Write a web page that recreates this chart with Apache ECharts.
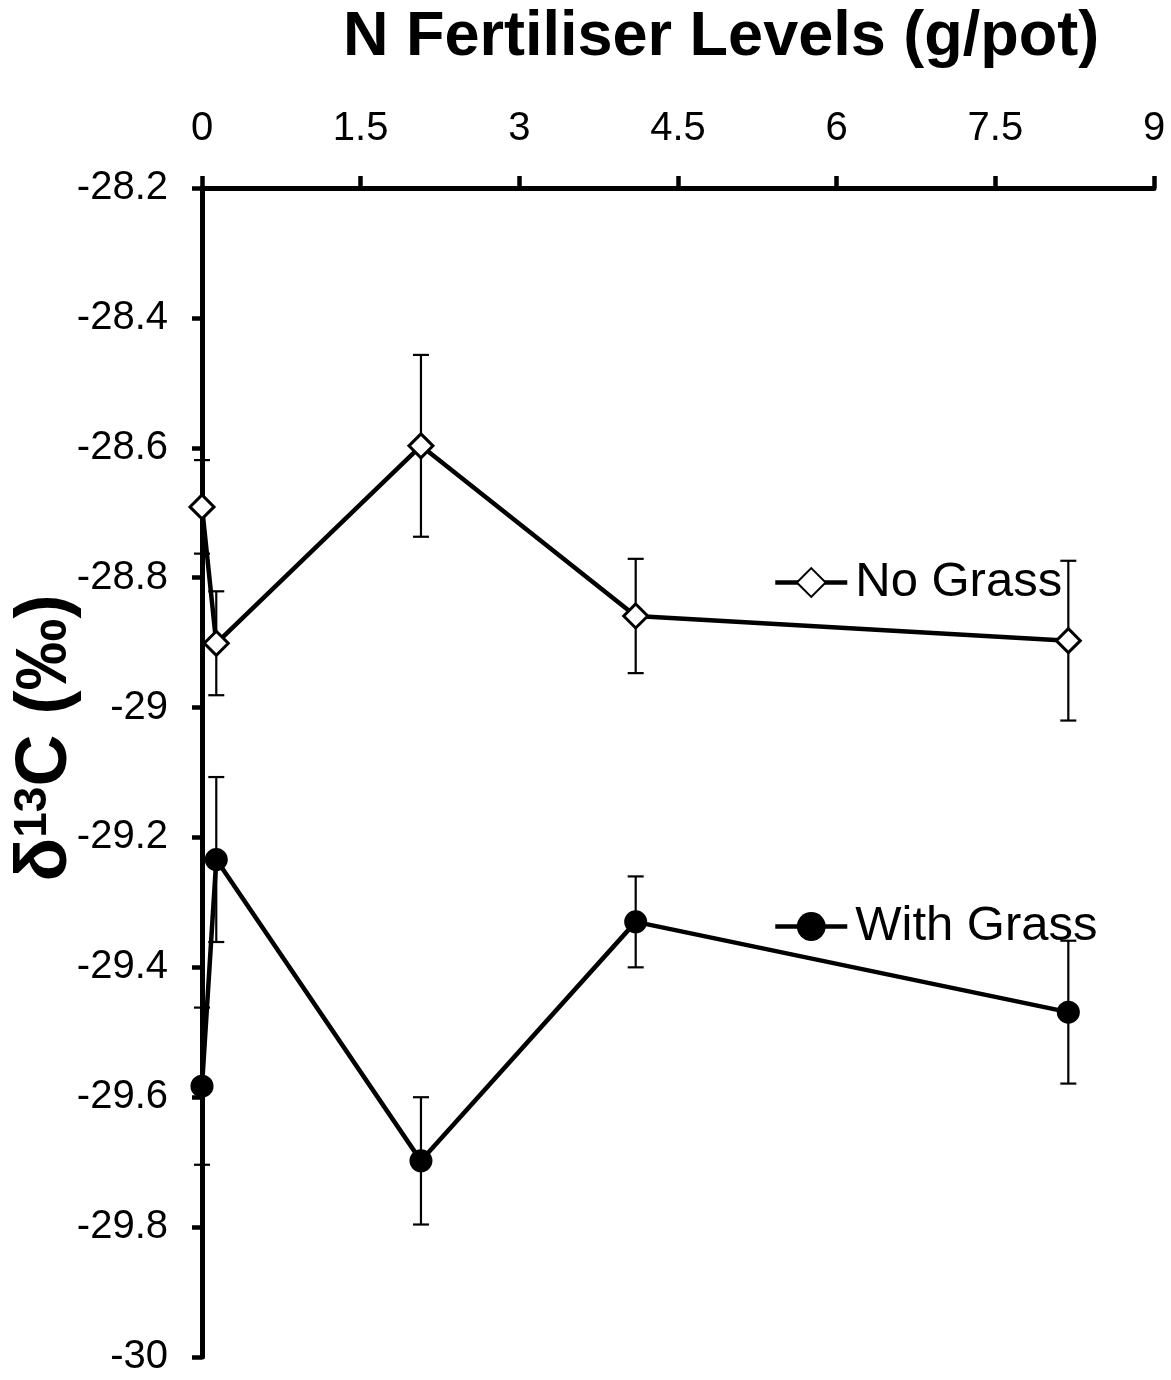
<!DOCTYPE html>
<html>
<head>
<meta charset="utf-8">
<script src="https://cdn.jsdelivr.net/npm/echarts@6/dist/echarts.min.js"></script>
<style>
  html, body { margin: 0; padding: 0; background: #fff; }
  #chart { width: 1171px; height: 1380px; }
</style>
</head>
<body>
<div id="chart"></div>
<script>
// N fertiliser levels (g/pot)
const nLevels = [0, 0.135, 2.07, 4.1, 8.19];

// δ13C means and error-bar half-widths
const noGrass = [-28.691, -28.901, -28.597, -28.859, -28.897];
const noGrassErr = [0.072, 0.080, 0.140, 0.088, 0.123];
const withGrass = [-29.583, -29.234, -29.698, -29.330, -29.469];
const withGrassErr = [0.121, 0.127, 0.098, 0.070, 0.110];

const FONT = '"Liberation Sans", Arial, sans-serif';

function pairs(ys) { return nLevels.map((x, i) => [x, ys[i]]); }
function triples(ys, es) { return nLevels.map((x, i) => [x, ys[i], es[i]]); }

// vertical error bar with end caps
function errorBar(params, api) {
  const x = api.value(0), y = api.value(1), e = api.value(2);
  const hi = api.coord([x, y + e]);
  const lo = api.coord([x, y - e]);
  const hw = 8;
  const st = { stroke: '#000', lineWidth: 2.2 };
  return {
    type: 'group',
    children: [
      { type: 'line', shape: { x1: hi[0], y1: hi[1], x2: lo[0], y2: lo[1] }, style: st },
      { type: 'line', shape: { x1: hi[0] - hw, y1: hi[1], x2: hi[0] + hw, y2: hi[1] }, style: st },
      { type: 'line', shape: { x1: lo[0] - hw, y1: lo[1], x2: lo[0] + hw, y2: lo[1] }, style: st }
    ]
  };
}

const chart = echarts.init(document.getElementById('chart'), null, { renderer: 'canvas' });

chart.setOption({
  animation: false,
  backgroundColor: '#fff',
  title: {
    text: 'N Fertiliser Levels (g/pot)',
    left: 343,
    top: 6,
    padding: 0,
    textStyle: { fontFamily: FONT, fontSize: 63, fontWeight: 'bold', color: '#000' }
  },
  graphic: [{
    type: 'text',
    x: 46,
    y: 738,
    rotation: Math.PI / 2,
    style: {
      text: '{a|δ}{s|13}{a|C (‰)}',
      align: 'center',
      verticalAlign: 'middle',
      fill: '#000',
      rich: {
        a: { fontFamily: FONT, fontSize: 72, fontWeight: 'bold', lineHeight: 72, fill: '#000' },
        s: { fontFamily: FONT, fontSize: 46, fontWeight: 'bold', lineHeight: 46, verticalAlign: 'top', fill: '#000' }
      }
    }
  }],
  legend: {
    orient: 'vertical',
    left: 773,
    top: 558,
    padding: 0,
    itemGap: 295,
    itemWidth: 72,
    itemHeight: 36,
    data: ['No Grass', 'With Grass'],
    lineStyle: { width: 4.5, color: '#000' },
    textStyle: { fontFamily: FONT, fontSize: 49, color: '#000', padding: [0, 0, 0, 3] }
  },
  grid: { left: 202, right: 17, top: 188, bottom: 23, containLabel: false },
  xAxis: {
    type: 'value',
    position: 'top',
    min: 0,
    max: 9,
    interval: 1.5,
    axisLine: { show: true, onZero: false, lineStyle: { color: '#000', width: 5 } },
    axisTick: { show: true, inside: false, length: 12, lineStyle: { color: '#000', width: 4.5 } },
    axisLabel: { fontFamily: FONT, fontSize: 40, color: '#000', margin: 39 },
    splitLine: { show: false }
  },
  yAxis: {
    type: 'value',
    min: -30,
    max: -28.2,
    interval: 0.2,
    axisLine: { show: true, onZero: false, lineStyle: { color: '#000', width: 5 } },
    axisTick: { show: true, inside: false, length: 10, lineStyle: { color: '#000', width: 4.5 } },
    axisLabel: { fontFamily: FONT, fontSize: 40, color: '#000', margin: 34 },
    splitLine: { show: false }
  },
  series: [
    {
      name: 'No Grass error',
      type: 'custom',
      renderItem: errorBar,
      data: triples(noGrass, noGrassErr),
      encode: { x: 0, y: 1 },
      z: 1,
      silent: true
    },
    {
      name: 'With Grass error',
      type: 'custom',
      renderItem: errorBar,
      data: triples(withGrass, withGrassErr),
      encode: { x: 0, y: 1 },
      z: 1,
      silent: true
    },
    {
      name: 'No Grass',
      type: 'line',
      data: pairs(noGrass),
      clip: false,
      symbol: 'diamond',
      symbolSize: 24,
      lineStyle: { color: '#000', width: 4.5 },
      itemStyle: { color: '#fff', borderColor: '#000', borderWidth: 3 },
      z: 3
    },
    {
      name: 'With Grass',
      type: 'line',
      data: pairs(withGrass),
      clip: false,
      symbol: 'circle',
      symbolSize: 23,
      lineStyle: { color: '#000', width: 4.5 },
      itemStyle: { color: '#000', borderColor: '#000', borderWidth: 0 },
      z: 3
    }
  ]
});
</script>
</body>
</html>
